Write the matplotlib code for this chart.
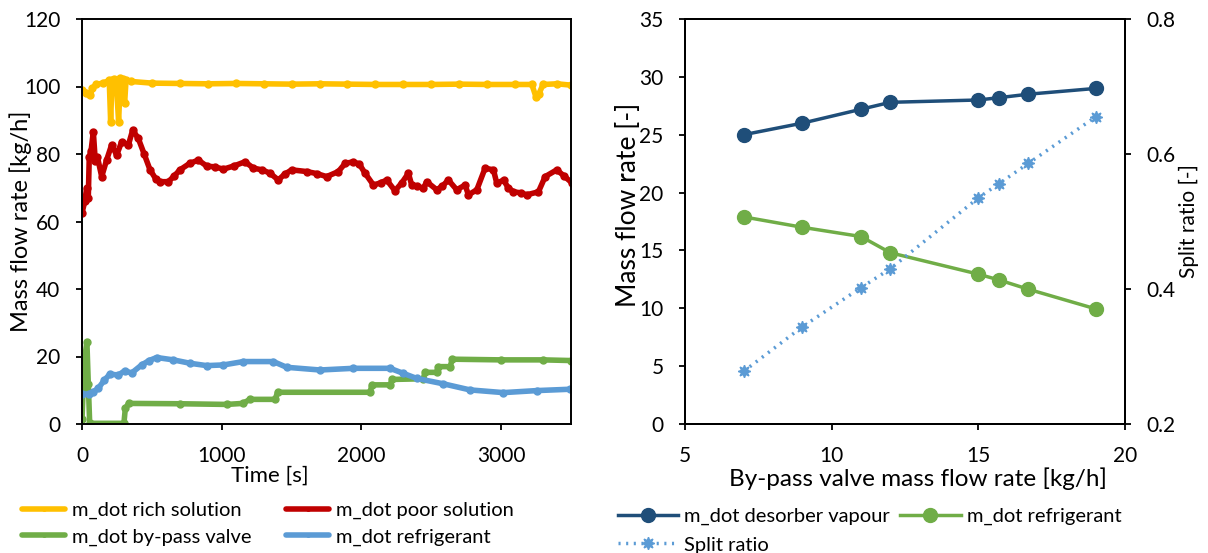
import matplotlib
matplotlib.use("Agg")
import matplotlib.pyplot as plt

plt.rcParams["font.family"] = ["Lato", "DejaVu Sans"]

# ---- left panel: time series (time [s], mass flow rate [kg/h]) ----
rich_solution = [
    (0, 99.0), (30, 98.2), (60, 97.5), (75, 99.5), (100, 100.6), (150, 101.0),
    (195, 101.8), (205, 89.6), (215, 102.0), (230, 102.3), (245, 101.5),
    (262, 89.6), (275, 102.5), (290, 102.2), (305, 95.0), (315, 101.8),
    (350, 101.5), (500, 101.0), (700, 100.9), (900, 100.8), (1100, 100.9),
    (1300, 100.8), (1500, 100.7), (1700, 100.8), (1900, 100.7), (2100, 100.6),
    (2300, 100.6), (2500, 100.6), (2700, 100.7), (2900, 100.6), (3100, 100.6),
    (3220, 100.6), (3250, 96.8), (3270, 97.8), (3300, 100.6), (3400, 100.8),
    (3500, 100.4),
]
poor_solution = [
    (0, 62.5), (20, 66.0), (33, 69.8), (45, 67.0), (52, 79.2), (65, 81.0),
    (81, 86.6), (95, 78.0), (110, 79.2), (141, 73.3), (176, 78.2), (212, 82.7),
    (248, 79.7), (284, 83.6), (332, 82.7), (363, 87.1), (403, 84.6), (445, 80.0),
    (487, 75.3), (530, 72.5), (558, 71.8), (618, 71.8), (660, 73.5), (701, 75.3),
    (770, 77.2), (833, 78.2), (893, 76.4), (950, 76.2), (1012, 75.5),
    (1090, 76.5), (1167, 77.7), (1227, 75.8), (1290, 75.3), (1346, 74.3),
    (1405, 72.3), (1450, 74.0), (1501, 75.3), (1608, 74.8), (1680, 74.2),
    (1751, 73.3), (1835, 74.8), (1883, 77.2), (1942, 77.7), (1985, 77.0),
    (2026, 74.3), (2086, 70.8), (2140, 71.5), (2181, 72.3), (2240, 69.1),
    (2290, 71.5), (2336, 74.3), (2360, 70.8), (2400, 70.5), (2443, 69.8),
    (2467, 71.8), (2539, 69.4), (2580, 70.5), (2622, 72.3), (2682, 69.4),
    (2742, 70.8), (2766, 67.9), (2826, 69.4), (2885, 75.8), (2945, 75.3),
    (2969, 71.3), (3017, 72.3), (3050, 70.0), (3088, 68.8), (3140, 68.5),
    (3183, 67.9), (3267, 68.8), (3315, 73.3), (3398, 75.3), (3450, 73.5),
    (3505, 71.5),
]
bypass_valve = [
    (0, 1.4), (15, 18.0), (35, 24.4), (45, 12.0), (55, 0.2), (300, 0.2),
    (310, 4.6), (334, 6.1), (700, 6.0), (1036, 5.8), (1150, 6.1), (1203, 7.3),
    (1382, 7.3), (1400, 9.4), (2062, 9.4), (2075, 11.6), (2205, 11.6),
    (2220, 13.2), (2443, 13.4), (2455, 15.3), (2540, 15.3), (2550, 17.0),
    (2635, 17.0), (2650, 19.2), (3000, 19.0), (3300, 19.0), (3500, 18.8),
]
refrigerant = [
    (0, 8.9), (48, 8.9), (80, 9.5), (117, 10.6), (160, 13.0), (200, 14.8),
    (260, 14.5), (307, 15.8), (355, 15.1), (427, 17.5), (480, 18.8),
    (534, 19.7), (654, 19.0), (773, 18.0), (892, 17.3), (1012, 17.5),
    (1155, 18.5), (1370, 18.5), (1465, 16.8), (1704, 16.0), (1942, 16.5),
    (2205, 16.5), (2300, 15.0), (2396, 13.5), (2587, 11.9), (2777, 10.1),
    (3016, 9.3), (3255, 9.9), (3493, 10.3),
]

# ---- right panel: vs by-pass valve mass flow rate ----
bypass_rate = [7, 9, 11, 12, 15, 15.7, 16.7, 19]
desorber_vapour = [25.0, 26.0, 27.2, 27.8, 28.0, 28.2, 28.5, 29.0]
refrigerant_rate = [17.9, 17.0, 16.2, 14.8, 12.95, 12.45, 11.65, 9.95]
split_ratio = [0.278, 0.344, 0.402, 0.430, 0.535, 0.556, 0.586, 0.655]

YELLOW = "#FFC000"
RED = "#C00000"
GREEN = "#70AD47"
BLUE = "#5B9BD5"
NAVY = "#1F4E79"
TICK_FS = 15
LEG_FS = 14.5
W, H = 1208, 553


def style_ticks(ax):
    ax.tick_params(labelsize=TICK_FS, direction="out", length=4.5, width=1.3)
    ax.tick_params(axis="x", pad=11)
    ax.tick_params(axis="y", pad=11)
    for s in ax.spines.values():
        s.set_linewidth(1.4)


fig = plt.figure(figsize=(W / 100, H / 100), dpi=100)

# left: time series
ax1 = fig.add_axes([82 / W, 1 - 424 / H, 489 / W, 405 / H])
series = [
    (rich_solution, YELLOW, "m_dot rich solution"),
    (poor_solution, RED, "m_dot poor solution"),
    (bypass_valve, GREEN, "m_dot by-pass valve"),
    (refrigerant, BLUE, "m_dot refrigerant"),
]
handles = []
for data, color, label in series:
    t, v = zip(*data)
    (ln,) = ax1.plot(t, v, color=color, lw=4, marker="o", ms=5, label=label,
                     solid_capstyle="round", solid_joinstyle="round")
    handles.append(ln)
ax1.set_xlim(0, 3500)
ax1.set_ylim(0, 120)
ax1.set_xticks([0, 1000, 2000, 3000])
ax1.set_yticks(range(0, 121, 20))
ax1.set_xlabel("Time [s]", fontsize=16)
ax1.xaxis.set_label_coords(0.385, -0.104)
ax1.set_ylabel("Mass flow rate [kg/h]", fontsize=17)
ax1.yaxis.set_label_coords(-0.102, 0.5)
style_ticks(ax1)

# legend rows: rich | poor, by-pass | refrigerant (matplotlib fills by column)
order = [0, 2, 1, 3]
fig.legend([handles[i] for i in order], [series[i][2] for i in order],
           loc="upper left", bbox_to_anchor=(22 / W, 1 - 502 / H), ncol=2,
           frameon=False, fontsize=LEG_FS, handlelength=2.15,
           handletextpad=0.35, columnspacing=1.7, labelspacing=0.45,
           borderpad=0, borderaxespad=0, markerscale=0.5)

# right: vs by-pass flow rate
ax2 = fig.add_axes([685 / W, 1 - 424 / H, 440 / W, 405 / H])
(h_des,) = ax2.plot(bypass_rate, desorber_vapour, color=NAVY, lw=2.5,
                    marker="o", ms=10, label="m_dot desorber vapour")
(h_ref,) = ax2.plot(bypass_rate, refrigerant_rate, color=GREEN, lw=2.5,
                    marker="o", ms=10, label="m_dot refrigerant")
ax2.set_xlim(5, 20)
ax2.set_ylim(0, 35)
ax2.set_xticks([5, 10, 15, 20])
ax2.set_yticks(range(0, 36, 5))
ax2.set_xlabel("By-pass valve mass flow rate [kg/h]", fontsize=17.5)
ax2.xaxis.set_label_coords(0.53, -0.108)
ax2.set_ylabel("Mass flow rate [-]", fontsize=19)
ax2.yaxis.set_label_coords(-0.1, 0.54)
style_ticks(ax2)

ax3 = ax2.twinx()
(h_split,) = ax3.plot(bypass_rate, split_ratio, color=BLUE, lw=2.5,
                      ls=(0, (0.6, 1.6)), marker=(8, 1, 0), ms=9,
                      label="Split ratio")
ax3.set_ylim(0.2, 0.8)
ax3.set_yticks([0.2, 0.4, 0.6, 0.8])
ax3.set_ylabel("Split ratio [-]", fontsize=15)
ax3.yaxis.set_label_coords(1.122, 0.5)
style_ticks(ax3)

fig.legend([h_des, h_split, h_ref],
           ["m_dot desorber vapour", "Split ratio", "m_dot refrigerant"],
           loc="upper left", bbox_to_anchor=(618 / W, 1 - 508 / H), ncol=2,
           frameon=False, fontsize=LEG_FS, handlelength=3.0,
           handletextpad=0.3, columnspacing=0.5, labelspacing=0.55,
           borderpad=0, borderaxespad=0)

fig.savefig("out.png", dpi=100)
